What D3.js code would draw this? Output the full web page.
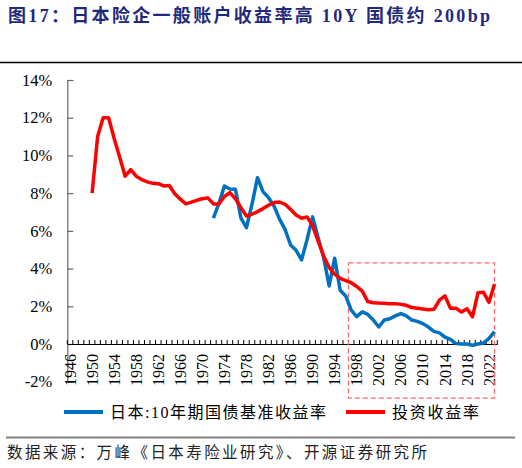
<!DOCTYPE html>
<html>
<head>
<meta charset="utf-8">
<script src="https://cdn.jsdelivr.net/npm/d3@7"></script>
<style>
  body { margin: 0; background: #fff; }
  svg { display: block; }
</style>
</head>
<body>
<script>
// years on the category axis
var years = d3.range(1946, 2024);

// investment yield of Japanese insurers' general account (%), 1950-2023
var investYears = d3.range(1950, 2024);
var investValues = [
  8.0, 11.0, 12.0, 12.0, 10.9, 9.9, 8.9, 9.25, 8.9, 8.72,
  8.6, 8.52, 8.5, 8.38, 8.4, 7.97, 7.68, 7.43, 7.52, 7.62,
  7.7, 7.75, 7.43, 7.42, 7.82, 8.03, 7.7, 7.23, 6.79, 6.88,
  7.02, 7.18, 7.36, 7.5, 7.53, 7.41, 7.14, 6.84, 6.67, 6.74,
  6.26, 5.46, 4.67, 4.05, 3.7, 3.48, 3.36, 3.25, 3.05, 2.8,
  2.25, 2.19, 2.17, 2.16, 2.14, 2.14, 2.1, 2.05, 1.93, 1.9,
  1.86, 1.82, 1.84, 2.32, 2.55, 1.9, 1.9, 1.7, 1.87, 1.44,
  2.72, 2.74, 2.21, 3.18
];

// Japan 10Y government bond yield (%), 1972-2023
var jgbYears = d3.range(1972, 2024);
var jgbValues = [
  6.67, 7.45, 8.38, 8.22, 8.2, 6.67, 6.17, 7.41, 8.82, 8.08,
  7.76, 7.32, 6.62, 6.08, 5.25, 4.97, 4.46, 5.55, 6.74, 5.64,
  4.58, 3.08, 4.55, 2.85, 2.55, 1.8, 1.45, 1.7, 1.57, 1.27,
  0.9, 1.27, 1.34, 1.49, 1.61, 1.49, 1.27, 1.2, 1.08, 0.9,
  0.67, 0.59, 0.37, 0.25, 0.02, 0.0, 0.0, -0.07, 0.0, 0.05,
  0.3, 0.66
];

var yTicks = [-2, 0, 2, 4, 6, 8, 10, 12, 14];
var xLabelYears = years.filter(function(y){ return (y - 1946) % 4 === 0; });

var titleText = "图17：日本险企一般账户收益率高 10Y 国债约 200bp";
var legendNames = ["日本:10年期国债基准收益率", "投资收益率"];
var sourceText = "数据来源：万峰《日本寿险业研究》、开源证券研究所";

var width = 522, height = 468;
var serif = "'Liberation Serif', 'Noto Sans CJK SC', serif";
var latin = "'Liberation Serif', 'Times New Roman', serif";

var svg = d3.select("body").append("svg")
    .attr("width", width)
    .attr("height", height);

svg.append("rect")
    .attr("width", width)
    .attr("height", height)
    .attr("fill", "#fff");

// title
svg.append("text")
    .attr("x", 8)
    .attr("y", 22)
    .style("font-family", serif)
    .style("font-weight", "bold")
    .style("font-size", "18px")
    .attr("fill", "#1f2a7a")
    .attr("textLength", 482)
    .attr("lengthAdjust", "spacing")
    .text(titleText);

svg.append("line")
    .attr("x1", 0).attr("x2", 522)
    .attr("y1", 62.5).attr("y2", 62.5)
    .attr("stroke", "#000")
    .attr("stroke-width", 1.5);

// scales
var x = d3.scaleBand()
    .domain(years)
    .range([67.3, 497.3])
    .padding(0);

var y = d3.scaleLinear()
    .domain([-2, 14])
    .range([381.7, 80]);

var xc = function(yr){ return x(yr) + x.bandwidth() / 2; };

// y axis
var yAxis = svg.append("g")
    .attr("transform", "translate(" + x.range()[0] + ",0)")
    .call(d3.axisLeft(y)
        .tickValues(yTicks)
        .tickSize(-6)
        .tickPadding(22)
        .tickFormat(function(d){ return d + "%"; }));

yAxis.select(".domain").attr("stroke", "#666").attr("stroke-width", 1.2);
yAxis.selectAll(".tick line").attr("stroke", "#666").attr("stroke-width", 1.2);
yAxis.selectAll("text")
    .style("font-family", latin)
    .style("font-size", "16.5px")
    .attr("fill", "#000")
    .attr("x", -15);

// x axis at 0%
var xAxis = svg.append("g")
    .attr("transform", "translate(0," + y(0) + ")")
    .call(d3.axisBottom(x)
        .tickValues(xLabelYears)
        .tickSize(0)
        .tickSizeOuter(0));

xAxis.select(".domain").attr("stroke", "#000").attr("stroke-width", 1.2);
xAxis.selectAll("text")
    .attr("transform", "rotate(-90)")
    .attr("x", -10)
    .attr("y", 0)
    .attr("dy", "0.35em")
    .attr("text-anchor", "end")
    .style("font-family", latin)
    .style("font-size", "16px")
    .attr("fill", "#000");

// year tick marks on the band boundaries
var bounds = years.map(function(yr){ return x(yr); }).concat([x.range()[1]]);
svg.append("g")
    .attr("transform", "translate(0," + y(0) + ")")
    .selectAll("line")
    .data(bounds)
    .enter()
    .append("line")
    .attr("x1", function(d){ return d; })
    .attr("x2", function(d){ return d; })
    .attr("y1", 0)
    .attr("y2", -4)
    .attr("stroke", "#000")
    .attr("stroke-width", 1);

// dashed highlight box 1997-2023
svg.append("rect")
    .attr("x", x(1997))
    .attr("y", y(4.3))
    .attr("width", xc(2023) - x(1997))
    .attr("height", y(-2.87) - y(4.3))
    .attr("fill", "none")
    .attr("stroke", "#ff6b6b")
    .attr("stroke-width", 1.3)
    .attr("stroke-dasharray", "5,3");

// series
var line = d3.line()
    .x(function(d){ return xc(d[0]); })
    .y(function(d){ return y(d[1]); });

svg.append("path")
    .datum(d3.zip(jgbYears, jgbValues))
    .attr("d", line)
    .attr("fill", "none")
    .attr("stroke", "#0070c0")
    .attr("stroke-width", 3.5)
    .attr("stroke-linejoin", "round");

svg.append("path")
    .datum(d3.zip(investYears, investValues))
    .attr("d", line)
    .attr("fill", "none")
    .attr("stroke", "#ff0000")
    .attr("stroke-width", 3.5)
    .attr("stroke-linejoin", "round");

// legend
var legendItems = [
  {name: legendNames[0], color: "#0070c0", x: 64, len: 216},
  {name: legendNames[1], color: "#ff0000", x: 346, len: 87}
];
var legend = svg.append("g");
legend.selectAll("line")
    .data(legendItems)
    .enter()
    .append("line")
    .attr("x1", function(d){ return d.x; })
    .attr("x2", function(d){ return d.x + 39; })
    .attr("y1", 412)
    .attr("y2", 412)
    .attr("stroke", function(d){ return d.color; })
    .attr("stroke-width", 4);
legend.selectAll("text")
    .data(legendItems)
    .enter()
    .append("text")
    .attr("x", function(d){ return d.x + 46; })
    .attr("y", 412)
    .attr("dy", "0.36em")
    .style("font-family", serif)
    .style("font-size", "16px")
    .attr("fill", "#000")
    .attr("textLength", function(d){ return d.len; })
    .attr("lengthAdjust", "spacing")
    .text(function(d){ return d.name; });

// source
svg.append("line")
    .attr("x1", 6).attr("x2", 515)
    .attr("y1", 437.5).attr("y2", 437.5)
    .attr("stroke", "#808080")
    .attr("stroke-width", 2);

svg.append("text")
    .attr("x", 7)
    .attr("y", 458)
    .style("font-family", serif)
    .style("font-size", "15.5px")
    .attr("fill", "#222")
    .attr("textLength", 420)
    .attr("lengthAdjust", "spacing")
    .text(sourceText);
</script>
</body>
</html>
